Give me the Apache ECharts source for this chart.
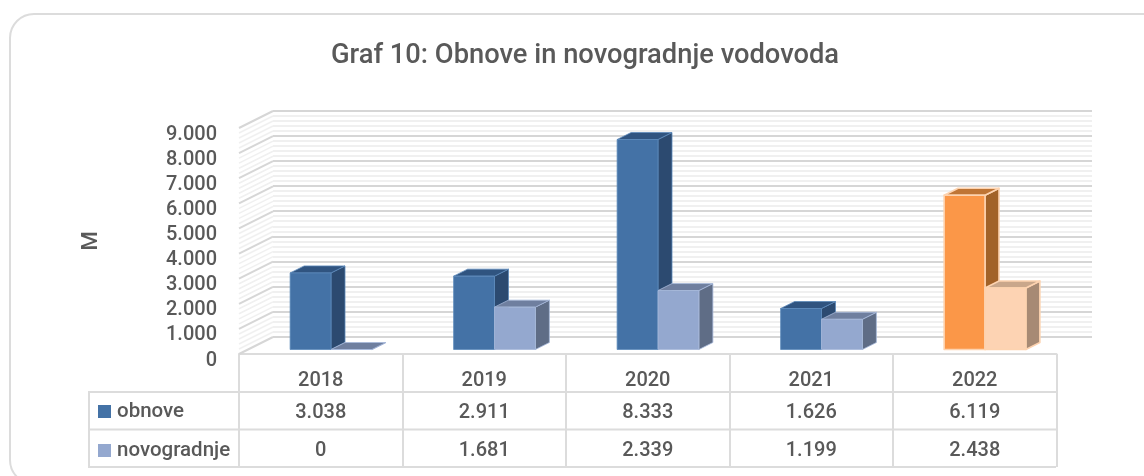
<!DOCTYPE html>
<html>
<head>
<meta charset="utf-8">
<style>html,body{margin:0;padding:0;background:#fff}#c{width:1144px;height:476px}</style>
<script src="https://cdn.jsdelivr.net/npm/echarts@6/dist/echarts.min.js"></script>
</head>
<body>
<div id="c"></div>
<script>
const categories = ['2018','2019','2020','2021','2022'];
const obnove = [3038,2911,8333,1626,6119];
const novogradnje = [0,1681,2339,1199,2438];
const axisTicks = [0,1000,2000,3000,4000,5000,6000,7000,8000,9000];

const FONT = 'Roboto,sans-serif';
const TXT = '#595959';
const GRID = '#d6d6d6';
const MINOR = '#f0f0f0';
const TABLE = '#dcdcdc';

const blueDark = {front:'#4472a6',side:'#2c4a70',top:'#305480',stroke:'#5d8abb'};
const blueLight = {front:'#94a8cf',side:'#5f6d86',top:'#6f7f9f',stroke:'#a7b9da'};
const orangeDark = {front:'#fb9748',side:'#a26228',top:'#bf7535',stroke:'#fdd3b0'};
const orangeLight = {front:'#fdd3b3',side:'#a78a74',top:'#c9a78b',stroke:'#fdd3b0'};

const fmt = v => String(v).replace(/\B(?=(\d{3})+$)/g,'.');

function bar3d(sideSign, normal, highlight){
  return function(params, api){
    const i = api.value(0), val = api.value(1);
    const base = api.coord([i,0]), top = api.coord([i,val]);
    const w = api.size([1,0])[0]*0.25;
    const x0 = sideSign<0 ? base[0]-w : base[0], x1 = x0+w;
    const dx = 14, dy = -7;
    const c = i===highlight ? (sideSign<0?orangeDark:orangeLight) : normal;
    const st = {stroke:c.stroke,lineWidth:i===highlight?1.6:0.8,lineJoin:'round'};
    const yb = base[1], yt = top[1];
    return {type:'group',children:[
      {type:'polygon',shape:{points:[[x1,yb],[x1+dx,yb+dy],[x1+dx,yt+dy],[x1,yt]]},style:{fill:c.side,...st}},
      {type:'polygon',shape:{points:[[x0,yt],[x0+dx,yt+dy],[x1+dx,yt+dy],[x1,yt]]},style:{fill:c.top,...st}},
      {type:'rect',shape:{x:x0,y:yt,width:w,height:yb-yt},style:{fill:c.front,...st}}
    ]};
  };
}

const chart = echarts.init(document.getElementById('c'),null,{renderer:'canvas'});
const rowLines = [392,429.5,467].map(y=>({type:'line',shape:{x1:89,y1:y,x2:1056,y2:y},style:{stroke:TABLE,lineWidth:2},z:1}));

chart.setOption({
  animation:false,
  backgroundColor:'#fff',
  textStyle:{fontFamily:FONT},
  title:{text:'Graf 10: Obnove in novogradnje vodovoda',left:580,top:38,textAlign:'center',
    textStyle:{fontFamily:FONT,fontSize:27.3,fontWeight:500,color:TXT}},
  legend:{orient:'vertical',left:93,top:396,itemWidth:13,itemHeight:13,itemGap:18,icon:'rect',
    data:[{name:'obnove',itemStyle:{color:blueDark.front}},{name:'novogradnje',itemStyle:{color:blueLight.front}}],
    textStyle:{fontFamily:FONT,fontSize:20.5,fontWeight:500,color:TXT,padding:[-6,0,0,1]}},
  grid:[
    {left:239,width:817.5,top:128,height:226},
    {left:249.25,width:817.5,top:122.7,height:226.8},
    {left:273,width:819,top:110.5,height:226.5},
    {left:239,width:817.5,top:134.5,height:226}
  ],
  xAxis:[
    {gridIndex:0,type:'category',data:categories,
      axisLine:{lineStyle:{color:TABLE,width:2}},
      axisTick:{show:true,length:113,lineStyle:{color:TABLE,width:2}},
      axisLabel:{margin:17,fontFamily:FONT,fontSize:20,fontWeight:500,color:TXT}},
    {gridIndex:1,type:'category',data:categories,show:false},
    {gridIndex:2,type:'category',data:categories,show:false},
    {gridIndex:3,type:'category',data:categories,show:false}
  ],
  yAxis:[
    {gridIndex:0,type:'value',min:0,max:9000,interval:1000,
      name:'M',nameLocation:'middle',nameGap:137,nameRotate:90,
      nameTextStyle:{fontFamily:FONT,fontSize:22,fontWeight:500,color:TXT},
      axisLine:{show:false},axisTick:{show:false},axisLabel:{show:false},splitLine:{show:false}},
    {gridIndex:1,type:'value',min:0,max:9000,interval:1000,show:false},
    {gridIndex:2,type:'value',min:0,max:9000,interval:1000,
      axisLine:{show:false},axisTick:{show:false},axisLabel:{show:false},
      splitLine:{show:true,lineStyle:{color:GRID,width:2}},
      minorSplitLine:{show:true,lineStyle:{color:MINOR,width:2}},
      minorTick:{show:false,splitNumber:5}},
    {gridIndex:3,type:'value',min:0,max:9000,interval:1000,
      axisLine:{show:false},axisTick:{show:false},splitLine:{show:false},
      axisLabel:{margin:22,fontFamily:FONT,fontSize:20,fontWeight:500,color:TXT,formatter:v=>fmt(v)}}
  ],
  series:[
    {type:'custom',name:'wall',xAxisIndex:0,yAxisIndex:0,silent:true,z:1,
      data:axisTicks.map(v=>[v]),
      encode:{y:0},
      renderItem(params,api){
        const v = api.value(0);
        const x = params.coordSys.x;
        const mk = (val,color) => {
          const p = api.coord([0,val]);
          return {type:'line',shape:{x1:x,y1:p[1],x2:x+34,y2:p[1]-17},style:{stroke:color,lineWidth:color===GRID?2:1.6}};
        };
        const ch = [];
        if(v<9000) for(const f of [0.2,0.4,0.6,0.8]) ch.push(mk(v+f*1000,MINOR));
        ch.push(mk(v,GRID));
        return {type:'group',children:ch};
      }},
    {type:'custom',name:'obnove',xAxisIndex:1,yAxisIndex:1,z:3,itemStyle:{color:blueDark.front},
      data:obnove.map((v,i)=>[i,v]),encode:{x:0,y:1},renderItem:bar3d(-1,blueDark,4)},
    {type:'custom',name:'novogradnje',xAxisIndex:1,yAxisIndex:1,z:3,itemStyle:{color:blueLight.front},
      data:novogradnje.map((v,i)=>[i,v]),encode:{x:0,y:1},renderItem:bar3d(1,blueLight,4)},
    {type:'custom',name:'table',xAxisIndex:0,yAxisIndex:0,silent:true,z:4,
      data:categories.map((c,i)=>[i,obnove[i],novogradnje[i]]),encode:{x:0},
      renderItem(params,api){
        const x = api.coord([api.value(0),0])[0];
        const t = (val,y)=>({type:'text',x,y,style:{text:fmt(val),font:'500 20px '+FONT,fill:TXT,textAlign:'center',textVerticalAlign:'middle'}});
        return {type:'group',children:[t(api.value(1),413),t(api.value(2),451)]};
      }}
  ],
  graphic:[
    {type:'rect',shape:{x:10,y:14,width:1160,height:470,r:24},style:{fill:'none',stroke:'#dcdcdc',lineWidth:2},z:0},
    ...rowLines,
    {type:'line',shape:{x1:89,y1:391,x2:89,y2:468},style:{stroke:TABLE,lineWidth:2},z:1}
  ]
});
</script>
</body>
</html>
